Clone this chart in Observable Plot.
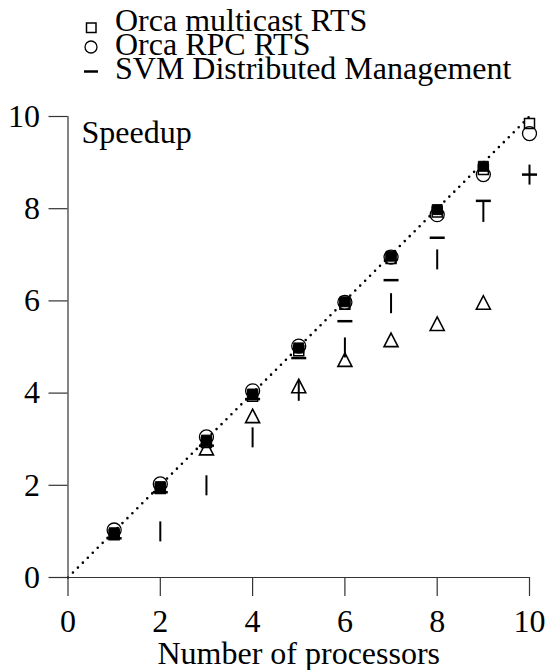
<!DOCTYPE html>
<html>
<head>
<meta charset="utf-8">
<script src="https://cdn.jsdelivr.net/npm/d3@7"></script>
<script src="https://cdn.jsdelivr.net/npm/@observablehq/plot@0.6"></script>
<style>
  html, body { margin: 0; padding: 0; background: white; }
  #chart { width: 547px; }
  svg { display: block; }
  svg, svg text { font-family: "Liberation Serif", "Times New Roman", "Nimbus Roman", "Tinos", "DejaVu Serif", serif !important; }
</style>
</head>
<body>
<div id="chart"></div>
<script>
// ---------- data ----------
const processors = [1, 2, 3, 4, 5, 6, 7, 8, 9, 10];
const orcaMulticastRTS = [0.93, 1.93, 2.93, 3.93, 4.92, 5.93, 6.92, 7.93, 8.85, 9.85];
const orcaRPCRTS = [1.03, 2.03, 3.05, 4.05, 5.02, 5.97, 6.95, 7.87, 8.74, 9.63];
const svmDistributed = [0.85, 1.85, 2.86, 3.87, 4.76, 5.56, 6.45, 7.37, 8.17, 8.74];
const filledProcessors = [1, 2, 3, 4, 5, 6, 7, 8, 9];
const filledSeries = [0.97, 1.97, 2.98, 3.98, 4.98, 5.98, 6.97, 7.98, 8.92];
const barProcessors = [2, 3, 4, 5, 6, 7, 8, 9, 10];
const barSeries = [1.0, 2.0, 3.04, 4.05, 4.99, 5.95, 6.9, 7.93, 8.74];
const triangleProcessors = [3, 4, 5, 6, 7, 8, 9];
const triangleSeries = [2.8, 3.5, 4.15, 4.72, 5.15, 5.5, 5.96];
const idealX = [0, 10];
const idealY = [0, 10];
const xTicks = [0, 2, 4, 6, 8, 10];
const yTicks = [0, 2, 4, 6, 8, 10];
const legendLabels = ["Orca multicast RTS", "Orca RPC RTS", "SVM Distributed Management"];
const yLabel = "Speedup";
const xLabel = "Number of processors";

// ---------- helpers ----------
const zip = (xs, ys) => xs.map((x, i) => ({x, y: ys[i]}));
const FONT = '"Liberation Serif", "Times New Roman", "Nimbus Roman", "Tinos", "DejaVu Serif", serif';

const symSquare = {draw(c) { c.rect(-5, -5, 10, 10); }};
const symH = {draw(c) { c.moveTo(-7.5, 0); c.lineTo(7.5, 0); }};
const symV = {draw(c) { c.moveTo(0, -10); c.lineTo(0, 10); }};
const symTri = {draw(c) { c.moveTo(0, -7); c.lineTo(7, 6.5); c.lineTo(-7, 6.5); c.closePath(); }};

// ---------- legend ----------
const legend = d3.create("svg").attr("width", 547).attr("height", 90)
  .attr("font-family", FONT).attr("font-size", 32);
const baselines = [31, 55, 79];
legend.append("rect").attr("x", 86.5).attr("y", 23).attr("width", 9.5).attr("height", 9.5)
  .attr("fill", "none").attr("stroke", "black").attr("stroke-width", 1.5);
legend.append("circle").attr("cx", 91).attr("cy", 47).attr("r", 6)
  .attr("fill", "none").attr("stroke", "black").attr("stroke-width", 1.3);
legend.append("line").attr("x1", 84).attr("x2", 98).attr("y1", 71.5).attr("y2", 71.5)
  .attr("stroke", "black").attr("stroke-width", 2.5);
legendLabels.forEach((t, i) => {
  legend.append("text").attr("x", 115).attr("y", baselines[i]).text(t);
});
document.getElementById("chart").append(legend.node());

// ---------- plot ----------
const chart = Plot.plot({
  width: 547,
  height: 580,
  marginLeft: 67.5,
  marginRight: 18,
  marginTop: 26,
  marginBottom: 93,
  x: {domain: [0, 10]},
  y: {domain: [0, 10]},
  style: {fontFamily: FONT, fontSize: "32px", color: "black", background: "white", overflow: "visible"},
  marks: [
    Plot.line(zip(idealX, idealY), {x: "x", y: "y", stroke: "black", strokeWidth: 2.6, strokeDasharray: "0,7", strokeLinecap: "round"}),
    Plot.ruleX([0], {stroke: "#333", strokeWidth: 1.2}),
    Plot.ruleY([0], {stroke: "#333", strokeWidth: 1.2}),
    Plot.axisX({ticks: xTicks, tickSize: 19, tickPadding: 13, label: null, stroke: "#333", strokeWidth: 1.2}),
    Plot.axisY({ticks: yTicks, tickSize: 19, tickPadding: 9, label: null, stroke: "#333", strokeWidth: 1.2}),
    Plot.text([yLabel], {frameAnchor: "top-left", textAnchor: "start", dx: 13.5, dy: 4, fontSize: 32}),
    Plot.text([xLabel], {frameAnchor: "bottom", dy: 86, fontSize: 32}),
    Plot.dot(zip(processors, orcaMulticastRTS), {x: "x", y: "y", symbol: symSquare, fill: "none", stroke: "black", strokeWidth: 1.5}),
    Plot.dot(zip(filledProcessors, filledSeries), {x: "x", y: "y", symbol: symSquare, fill: "black", stroke: "black", strokeWidth: 1}),
    Plot.dot(zip(processors, orcaRPCRTS), {x: "x", y: "y", r: 7, fill: "none", stroke: "black", strokeWidth: 1.3}),
    Plot.dot(zip(processors, svmDistributed), {x: "x", y: "y", symbol: symH, fill: "none", stroke: "black", strokeWidth: 2.5}),
    Plot.dot(zip(barProcessors, barSeries), {x: "x", y: "y", symbol: symV, fill: "none", stroke: "black", strokeWidth: 2}),
    Plot.dot(zip(triangleProcessors, triangleSeries), {x: "x", y: "y", symbol: symTri, fill: "none", stroke: "black", strokeWidth: 1.6})
  ]
});
document.getElementById("chart").append(chart);
</script>
</body>
</html>
